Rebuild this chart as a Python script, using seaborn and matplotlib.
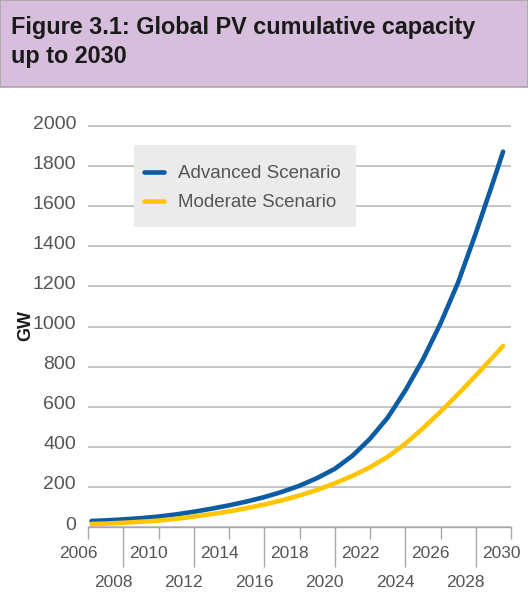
import pandas as pd
import seaborn as sns
import matplotlib.pyplot as plt
from matplotlib.patches import Rectangle
from matplotlib.transforms import ScaledTranslation

# values (GW)
years = [2006.2, 2007, 2008, 2009, 2010, 2011, 2012, 2013, 2014, 2015, 2016, 2017,
         2018, 2019, 2020, 2021, 2022, 2023, 2024, 2025, 2026, 2027, 2028, 2029, 2029.55]
advanced = [30, 33, 38, 44, 52, 63, 76, 91, 108, 127, 149, 175,
            206, 244, 290, 355, 440, 545, 680, 835, 1015, 1220, 1465, 1725, 1872]
moderate = [15, 17, 21, 26, 32, 41, 52, 64, 78, 94, 112, 133,
            157, 185, 218, 255, 298, 350, 415, 492, 575, 663, 755, 850, 903]
scenarios = ["Advanced Scenario", "Moderate Scenario"]
colors = ["#0b5ba5", "#ffc500"]

x_major = list(range(2006, 2031, 4))
x_minor = list(range(2008, 2029, 4))
y_ticks = list(range(0, 2001, 200))

df = pd.DataFrame({
    "Year": years * 2,
    "GW": advanced + moderate,
    "Scenario": [scenarios[0]] * len(years) + [scenarios[1]] * len(years),
})

sns.set_style("white")
plt.rcParams["font.family"] = ["Liberation Sans", "DejaVu Sans"]

grey_txt = "#555555"
grey_line = "#a8a8a8"

fig = plt.figure(figsize=(5.28, 6.05), dpi=100)

# title banner
fig.add_artist(Rectangle((0, 1 - 87 / 605), 1, 87 / 605, transform=fig.transFigure,
                         facecolor="#d6bedc", edgecolor="#a8a8a8", lw=1.2, zorder=0))
fig.text(11 / 528, 1 - 34 / 605, "Figure 3.1: Global PV cumulative capacity",
         fontsize=16.8, fontweight="bold", color="#1a1a1a", va="baseline")
fig.text(11 / 528, 1 - 63 / 605, "up to 2030",
         fontsize=16.8, fontweight="bold", color="#1a1a1a", va="baseline")

ax = fig.add_axes([88 / 528, 1 - 527 / 605, 423 / 528, 403 / 605])
sns.lineplot(data=df, x="Year", y="GW", hue="Scenario", hue_order=scenarios,
             palette=colors, linewidth=3.3, ax=ax)
for ln in ax.get_lines():
    ln.set_solid_joinstyle("round")

ax.set_xlim(2006, 2030)
ax.set_ylim(0, 2010)
ax.set_xticks(x_major)
ax.set_xticks(x_minor, minor=True)
ax.set_xticklabels([str(v) for v in x_major])
ax.set_xticklabels([str(v) for v in x_minor], minor=True)
ax.set_yticks(y_ticks)

ax.tick_params(axis="x", which="major", bottom=True, length=8.6, width=1, color=grey_line,
               pad=5, labelsize=12.5, labelcolor=grey_txt)
ax.tick_params(axis="x", which="minor", bottom=True, length=28.8, width=1, color=grey_line,
               pad=5.8, labelsize=12.5, labelcolor=grey_txt)
ax.tick_params(axis="y", left=False, length=0, pad=8.6, labelsize=14, labelcolor=grey_txt)

ax.grid(axis="y", color="#b5b5b5", linewidth=1.1)
ax.grid(axis="x", visible=False)
ax.set_axisbelow(True)
sns.despine(ax=ax, left=True)
ax.spines["bottom"].set_color(grey_line)
ax.spines["bottom"].set_linewidth(1)

ax.set_xlabel("")
ax.set_ylabel("GW", fontsize=13, fontweight="bold", color="#1a1a1a")
ax.yaxis.set_label_coords(-0.128, 0.5)

# legend: grey box drawn behind a frameless legend
fig.add_artist(Rectangle((134 / 528, 1 - 227 / 605), 222 / 528, 82 / 605,
                         transform=fig.transFigure, facecolor="#ebebeb",
                         edgecolor="none", zorder=2))
old = ax.get_legend()
handles = old.legend_handles
labels = [t.get_text() for t in old.get_texts()]
old.remove()
for h in handles:
    h.set_linewidth(3.3)
leg = fig.legend(handles, labels, loc="upper left", bbox_to_anchor=(134 / 528, 1 - 155 / 605),
                 bbox_transform=fig.transFigure, borderaxespad=0, fontsize=13.5,
                 frameon=False, handlelength=1.07, handletextpad=0.75,
                 labelspacing=0.65, borderpad=0.53)
leg.set_zorder(3)
for t in leg.get_texts():
    t.set_color(grey_txt)

# shift tick labels as in the reference
off_x = ScaledTranslation(-10 / 100, 0, fig.dpi_scale_trans)
for t in ax.xaxis.get_major_ticks() + ax.xaxis.get_minor_ticks():
    t.label1.set_transform(t.label1.get_transform() + off_x)
off_y = ScaledTranslation(0, 4 / 100, fig.dpi_scale_trans)
for t in ax.yaxis.get_major_ticks():
    t.label1.set_transform(t.label1.get_transform() + off_y)

fig.savefig("out.png", dpi=100)
